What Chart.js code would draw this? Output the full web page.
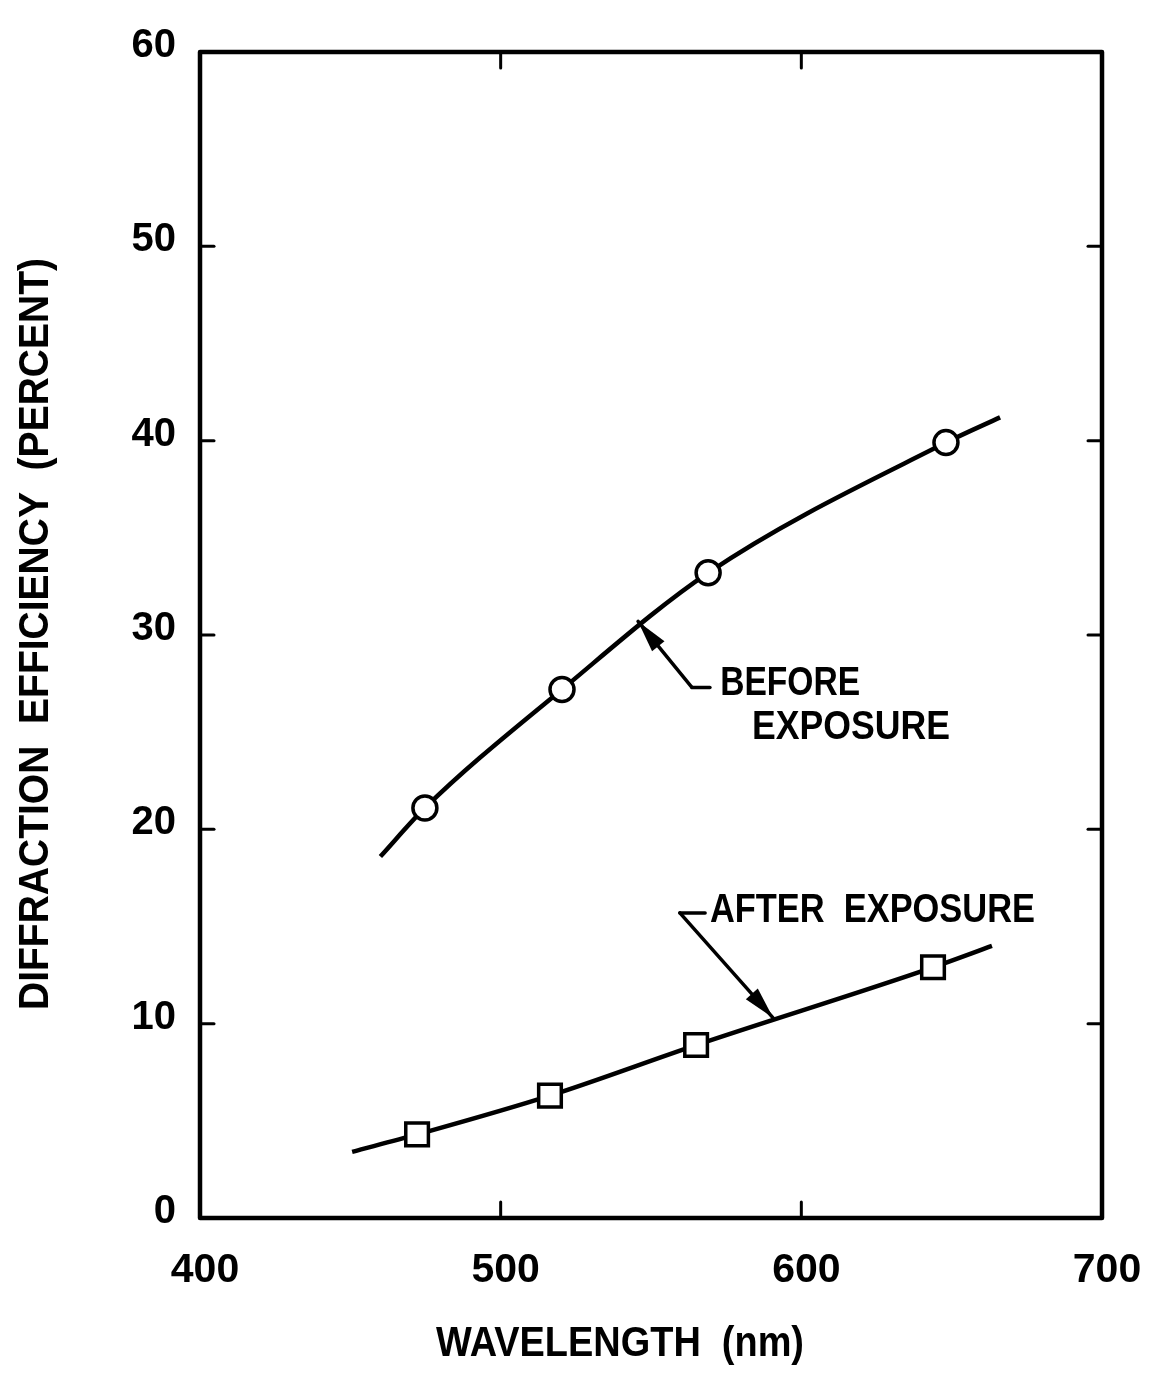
<!DOCTYPE html>
<html><head><meta charset="utf-8">
<script src="https://cdn.jsdelivr.net/npm/chart.js@4/dist/chart.umd.min.js"></script>
<style>html,body{margin:0;padding:0;background:#fff;}canvas{display:block;}</style>
</head><body>
<canvas id="c" width="1149" height="1373"></canvas>
<script>
// ---- data ----
const xTicks = [400, 500, 600, 700];
const yTicks = [0, 10, 20, 30, 40, 50, 60];
const xLabel = 'WAVELENGTH  (nm)';
const yLabel = 'DIFFRACTION  EFFICIENCY  (PERCENT)';

// measured points (circles) before exposure
const beforeX = [474.8, 520.4, 569.0, 648.1];
const beforeY = [21.1, 27.2, 33.2, 39.9];
// fitted curve ends
const beforeStart = [460.0, 18.6];
const beforeEnd = [666.1, 41.2];

// measured points (squares) after exposure
const afterX = [472.2, 516.4, 565.0, 643.8];
const afterY = [4.3, 6.3, 8.9, 12.9];
const afterStart = [450.6, 3.4];
const afterEnd = [663.4, 14.0];

const seriesNames = ['BEFORE EXPOSURE', 'AFTER EXPOSURE'];

function buildSeries(xs, ys, s, e) {
  const pts = [{x: s[0], y: s[1]}];
  xs.forEach((x, i) => pts.push({x: x, y: ys[i]}));
  pts.push({x: e[0], y: e[1]});
  return pts;
}
function radii(n, r) { const a = [0]; for (let i = 0; i < n; i++) a.push(r); a.push(0); return a; }

const FONT = '"Liberation Sans", Arial, sans-serif';

function fitText(ctx, text, x, y, targetW, size, align) {
  ctx.save();
  ctx.font = 'bold ' + size + 'px ' + FONT;
  const w = ctx.measureText(text).width;
  const sx = targetW / w;
  ctx.translate(x, y);
  ctx.scale(sx, 1);
  ctx.textBaseline = 'middle';
  ctx.textAlign = align || 'left';
  ctx.fillStyle = '#000';
  ctx.fillText(text, 0, 0);
  ctx.restore();
}

function arrowLine(ctx, x1, y1, x2, y2) {
  ctx.beginPath(); ctx.moveTo(x1, y1); ctx.lineTo(x2, y2); ctx.stroke();
  const ang = Math.atan2(y2 - y1, x2 - x1);
  const L = 32, W = 8;
  ctx.beginPath();
  ctx.moveTo(x2, y2);
  ctx.lineTo(x2 - L * Math.cos(ang) + W * Math.sin(ang), y2 - L * Math.sin(ang) - W * Math.cos(ang));
  ctx.lineTo(x2 - L * Math.cos(ang) - W * Math.sin(ang), y2 - L * Math.sin(ang) + W * Math.cos(ang));
  ctx.closePath(); ctx.fill();
}

const decor = {
  id: 'decor',
  afterDraw(chart) {
    const ctx = chart.ctx, a = chart.chartArea;
    const xs = chart.scales.x, ys = chart.scales.y;
    ctx.save();
    ctx.strokeStyle = '#000'; ctx.fillStyle = '#000';
    ctx.lineWidth = 4.5; ctx.lineCap = 'round'; ctx.lineJoin = 'round';
    ctx.strokeRect(a.left, a.top, a.right - a.left, a.bottom - a.top);
    ctx.lineWidth = 3;
    xTicks.slice(1, -1).forEach(v => {
      const p = xs.getPixelForValue(v);
      ctx.beginPath(); ctx.moveTo(p, a.bottom); ctx.lineTo(p, a.bottom - 16); ctx.stroke();
      ctx.beginPath(); ctx.moveTo(p, a.top); ctx.lineTo(p, a.top + 16); ctx.stroke();
    });
    yTicks.slice(1, -1).forEach(v => {
      const p = ys.getPixelForValue(v);
      ctx.beginPath(); ctx.moveTo(a.left, p); ctx.lineTo(a.left + 14, p); ctx.stroke();
      ctx.beginPath(); ctx.moveTo(a.right, p); ctx.lineTo(a.right - 14, p); ctx.stroke();
    });

    // BEFORE EXPOSURE leader
    ctx.lineWidth = 3.5;
    const bTip = [xs.getPixelForValue(545.7), ys.getPixelForValue(30.7)];
    const bElb = [xs.getPixelForValue(563.6), ys.getPixelForValue(27.3)];
    const bEnd = [xs.getPixelForValue(569.6), ys.getPixelForValue(27.3)];
    ctx.beginPath(); ctx.moveTo(bEnd[0], bEnd[1]); ctx.lineTo(bElb[0], bElb[1]); ctx.stroke();
    arrowLine(ctx, bElb[0], bElb[1], bTip[0], bTip[1]);
    fitText(ctx, 'BEFORE', xs.getPixelForValue(573), ys.getPixelForValue(27.5), 140, 40);
    fitText(ctx, 'EXPOSURE', xs.getPixelForValue(583.6), ys.getPixelForValue(25.2), 198, 40);

    // AFTER EXPOSURE leader
    const aStart = [xs.getPixelForValue(568.0), ys.getPixelForValue(15.7)];
    const aElb = [xs.getPixelForValue(559.6), ys.getPixelForValue(15.7)];
    const aTip = [xs.getPixelForValue(590.6), ys.getPixelForValue(10.3)];
    ctx.beginPath(); ctx.moveTo(aStart[0], aStart[1]); ctx.lineTo(aElb[0], aElb[1]); ctx.stroke();
    arrowLine(ctx, aElb[0], aElb[1], aTip[0], aTip[1]);
    fitText(ctx, 'AFTER  EXPOSURE', xs.getPixelForValue(569.6), ys.getPixelForValue(15.8), 325, 40);

    // axis titles
    fitText(ctx, xLabel, 620, 1344, 368, 42, 'center');
    ctx.save();
    ctx.translate(36, 634);
    ctx.rotate(-Math.PI / 2);
    fitText(ctx, yLabel, 0, 0, 752, 42, 'center');
    ctx.restore();
    ctx.restore();
  }
};

new Chart(document.getElementById('c'), {
  type: 'scatter',
  data: {
    datasets: [
      {
        label: seriesNames[0],
        data: buildSeries(beforeX, beforeY, beforeStart, beforeEnd),
        showLine: true,
        cubicInterpolationMode: 'monotone',
        borderColor: '#000', borderWidth: 4.5,
        pointStyle: 'circle', pointRadius: radii(beforeX.length, 12),
        pointBackgroundColor: '#fff', pointBorderColor: '#000', pointBorderWidth: 3.5
      },
      {
        label: seriesNames[1],
        data: buildSeries(afterX, afterY, afterStart, afterEnd),
        showLine: true,
        cubicInterpolationMode: 'monotone',
        borderColor: '#000', borderWidth: 4.5,
        pointStyle: 'rect', pointRadius: radii(afterX.length, 16),
        pointBackgroundColor: '#fff', pointBorderColor: '#000', pointBorderWidth: 3.5
      }
    ]
  },
  options: {
    responsive: false,
    animation: false,
    devicePixelRatio: 1,
    layout: { padding: { top: 52, right: 47, left: 0, bottom: 0 } },
    plugins: { legend: { display: false }, tooltip: { enabled: false }, title: { display: false } },
    scales: {
      x: {
        type: 'linear', min: 400, max: 700,
        afterBuildTicks(s) { s.ticks = xTicks.map(v => ({value: v})); },
        afterFit(s) { s.height = 155; s.paddingLeft = 0; s.paddingRight = 0; },
        grid: { display: false, drawTicks: false }, border: { display: false },
        ticks: { color: '#000', padding: 28, labelOffset: 5, font: { family: FONT, size: 41, weight: 'bold' }, maxRotation: 0 }
      },
      y: {
        type: 'linear', min: 0, max: 60,
        afterBuildTicks(s) { s.ticks = yTicks.map(v => ({value: v})); },
        afterFit(s) { s.width = 200; s.paddingTop = 0; s.paddingBottom = 0; },
        grid: { display: false, drawTicks: false }, border: { display: false },
        ticks: { color: '#000', padding: 24, labelOffset: -6, font: { family: FONT, size: 40, weight: 'bold' } }
      }
    }
  },
  plugins: [decor]
});
</script>
</body></html>
